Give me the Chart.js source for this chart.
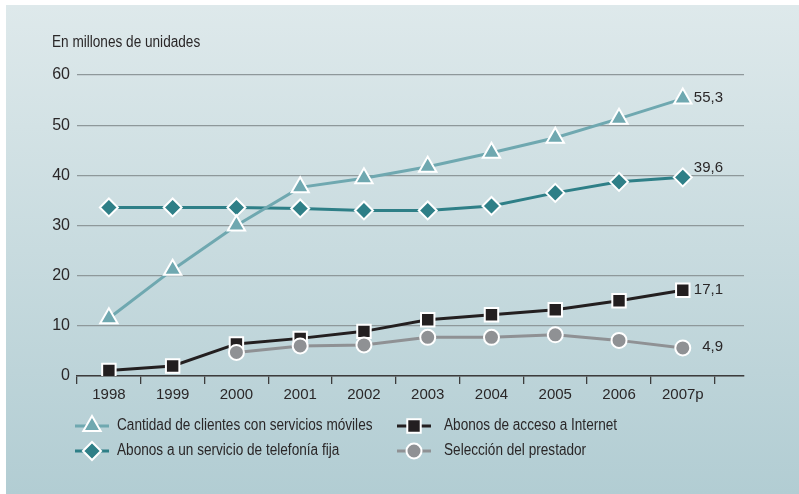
<!DOCTYPE html>
<html>
<head>
<meta charset="utf-8">
<script src="https://cdn.jsdelivr.net/npm/chart.js@4/dist/chart.umd.min.js"></script>
<style>
    html, body { margin: 0; padding: 0; background: #ffffff; }
    #chart { display: block; }
</style>
</head>
<body>
<canvas id="chart" width="799" height="494"></canvas>
<script>
// Years on the x axis and their labels
const years = [1998, 1999, 2000, 2001, 2002, 2003, 2004, 2005, 2006, 2007];
const yearLabels = ["1998", "1999", "2000", "2001", "2002", "2003", "2004", "2005", "2006", "2007p"];

// Series values (millions)
const moviles = [11.5, 21.2, 30.0, 37.6, 39.4, 41.7, 44.5, 47.5, 51.3, 55.3];
const telefoniaFija = [33.6, 33.6, 33.6, 33.4, 33.0, 33.0, 33.9, 36.5, 38.7, 39.6];
const internet = [1.1, 2.0, 6.4, 7.5, 8.9, 11.2, 12.2, 13.2, 15.0, 17.1];
const prestador = [null, null, 4.7, 6.0, 6.2, 7.7, 7.7, 8.2, 7.1, 5.6];

// Labels written at the end of each line
const endLabels = ["55,3", "39,6", "17,1", "4,9"];

const yTicks = [0, 10, 20, 30, 40, 50, 60];

const COLORS = {
    moviles: "#6fa8b0",
    fija: "#2e7f87",
    internet: "#231f20",
    prestador: "#8f9194",
    grid: "#8e989a",
    axis: "#3c3c3c",
    text: "#2a2728",
};

const TEXTFONT = "16px 'Liberation Sans', Arial, sans-serif";
const NUMFONT = "'Liberation Sans', Arial, sans-serif";

function toPoints(values) {
    return years.map((yr, i) => ({x: yr, y: values[i]}));
}

// the original uses a condensed face, so squeeze the text a bit
function condensedText(ctx, text, x, y) {
    ctx.save();
    ctx.font = TEXTFONT;
    ctx.textAlign = "left";
    ctx.textBaseline = "middle";
    ctx.translate(x, y);
    ctx.scale(0.85, 1);
    ctx.fillText(text, 0, 0);
    ctx.restore();
}

// Background panel with a soft vertical gradient
const backgroundPlugin = {
    id: "panelBackground",
    beforeDraw(chart) {
        const ctx = chart.ctx;
        ctx.save();
        ctx.fillStyle = "#ffffff";
        ctx.fillRect(0, 0, chart.width, chart.height);
        const grad = ctx.createLinearGradient(0, 5, 0, chart.height);
        grad.addColorStop(0, "#dee9eb");
        grad.addColorStop(1, "#b2cdd3");
        ctx.fillStyle = grad;
        ctx.fillRect(6, 5, chart.width - 6, chart.height - 5);
        ctx.restore();
    },
};

// Unit title, end values and the two-column legend
const annotationsPlugin = {
    id: "annotations",
    afterDraw(chart) {
        const ctx = chart.ctx;
        ctx.save();
        ctx.fillStyle = COLORS.text;

        condensedText(ctx, "En millones de unidades", 52, 43);

        // end-of-line values
        ctx.font = "15px " + NUMFONT;
        ctx.textAlign = "right";
        ctx.textBaseline = "middle";
        const offsets = [-1, -9, 0, -1];
        chart.data.datasets.forEach((ds, i) => {
            const meta = chart.getDatasetMeta(i);
            const last = meta.data[meta.data.length - 1];
            ctx.fillText(endLabels[i], 723, last.y + offsets[i]);
        });

        // legend
        const items = [
            {ds: 0, x: 75, y: 426, tx: 117},
            {ds: 2, x: 397, y: 426, tx: 444},
            {ds: 1, x: 75, y: 451, tx: 117},
            {ds: 3, x: 397, y: 451, tx: 444},
        ];
        items.forEach((item) => {
            const ds = chart.data.datasets[item.ds];
            ctx.strokeStyle = ds.borderColor;
            ctx.lineWidth = 3;
            ctx.beginPath();
            ctx.moveTo(item.x, item.y);
            ctx.lineTo(item.x + 34, item.y);
            ctx.stroke();

            ctx.fillStyle = ds.pointBackgroundColor;
            ctx.strokeStyle = "#ffffff";
            ctx.lineWidth = 2;
            Chart.helpers.drawPoint(ctx, {
                pointStyle: ds.pointStyle,
                radius: ds.pointRadius,
                borderWidth: 2,
                rotation: 0,
            }, item.x + 17, item.y);

            ctx.fillStyle = COLORS.text;
            condensedText(ctx, ds.label, item.tx, item.y);
        });
        ctx.restore();
    },
};

function makeDataset(label, values, color, style, radius, order) {
    return {
        label: label,
        data: toPoints(values),
        borderColor: color,
        backgroundColor: color,
        pointBackgroundColor: color,
        pointBorderColor: "#ffffff",
        pointBorderWidth: 2,
        pointStyle: style,
        pointRadius: radius,
        pointHoverRadius: radius,
        borderWidth: 3,
        tension: 0,
        order: order,
    };
}

const CHART = document.getElementById("chart");
const chart = new Chart(CHART, {
    type: "line",
    data: {
        datasets: [
            makeDataset("Cantidad de clientes con servicios móviles", moviles, COLORS.moviles, "triangle", 10, 0),
            makeDataset("Abonos a un servicio de telefonía fija", telefoniaFija, COLORS.fija, "rectRot", 9, 3),
            makeDataset("Abonos de acceso a Internet", internet, COLORS.internet, "rect", 9.5, 2),
            makeDataset("Selección del prestador", prestador, COLORS.prestador, "circle", 7.5, 1),
        ],
    },
    options: {
        responsive: false,
        animation: false,
        devicePixelRatio: 1,
        layout: {
            padding: {left: 0, right: 55, top: 75, bottom: 0},
        },
        plugins: {
            legend: {display: false},
            tooltip: {enabled: false},
            title: {display: false},
        },
        scales: {
            x: {
                type: "linear",
                min: 1997.5,
                max: 2007.96,
                afterBuildTicks(scale) {
                    // tick marks sit between the years
                    scale.ticks = years.concat([2008]).map((yr) => ({value: yr - 0.5}));
                },
                afterFit(scale) {
                    scale.height = 118;
                },
                ticks: {
                    autoSkip: false,
                    maxRotation: 0,
                    labelOffset: 31.9,
                    padding: 2,
                    color: COLORS.text,
                    font: {family: NUMFONT, size: 15},
                    callback: (value, index) => yearLabels[index] || "",
                },
                grid: {
                    drawOnChartArea: false,
                    drawTicks: true,
                    tickLength: 8,
                    color: COLORS.axis,
                    lineWidth: 1.3,
                },
                border: {display: true, color: COLORS.axis, width: 1.5},
            },
            y: {
                min: 0,
                max: 60,
                afterBuildTicks(scale) {
                    scale.ticks = yTicks.map((v) => ({value: v}));
                },
                afterFit(scale) {
                    scale.width = 77;
                },
                ticks: {
                    padding: 7,
                    color: COLORS.text,
                    font: {family: NUMFONT, size: 16},
                },
                grid: {
                    color: COLORS.grid,
                    lineWidth: 1.3,
                    drawTicks: false,
                },
                border: {display: false},
            },
        },
    },
    plugins: [backgroundPlugin, annotationsPlugin],
});
</script>
</body>
</html>
